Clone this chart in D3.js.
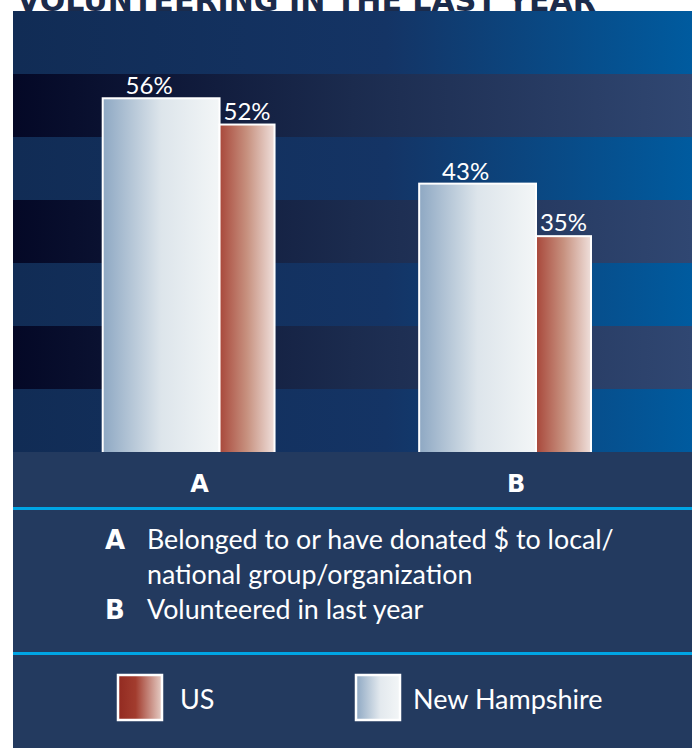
<!DOCTYPE html>
<html>
<head>
<meta charset="utf-8">
<script src="https://cdn.jsdelivr.net/npm/d3@7"></script>
<style>
  html, body { margin: 0; padding: 0; background: #fff; }
  svg { display: block; }
</style>
</head>
<body>
<script>
// chart values
var title = "VOLUNTEERING IN THE LAST YEAR";
var categories = ["A", "B"];
var nhValues = [56, 43];
var usValues = [52, 35];
var categoryNotes = [
    ["Belonged to or have donated $ to local/", "national group/organization"],
    ["Volunteered in last year"]
];
var legendItems = ["US", "New Hampshire"];

document.addEventListener("DOMContentLoaded", function() {
    var width = 692, height = 748;
    var panelX = 13, panelY = 11;
    var plotBottom = 452;

    var svg = d3.select("body").append("svg")
        .attr("width", width)
        .attr("height", height);

    var defs = svg.append("defs");

    function gradient(id, stops) {
        var g = defs.append("linearGradient")
            .attr("id", id)
            .attr("x1", "0%").attr("x2", "100%")
            .attr("y1", "0%").attr("y2", "0%");
        stops.forEach(function(s) {
            g.append("stop").attr("offset", s[0]).attr("stop-color", s[1]);
        });
    }

    gradient("bandBlue", [["0%", "#112c55"], ["55%", "#143465"], ["100%", "#005b9f"]]);
    gradient("bandDark", [["0%", "#040826"], ["50%", "#1b2b4e"], ["100%", "#304772"]]);
    gradient("nhFill", [["0%", "#8ea8c3"], ["50%", "#dde5eb"], ["100%", "#f3f6f7"]]);
    gradient("usFill", [["0%", "#a8473a"], ["50%", "#c7917f"], ["100%", "#efdfdb"]]);
    gradient("usSwatch", [["0%", "#922a20"], ["40%", "#a23c2e"], ["100%", "#e6cec6"]]);
    gradient("nhSwatch", [["0%", "#8ea8c3"], ["55%", "#e3e9ee"], ["100%", "#f3f6f7"]]);

    // title, cut by the panel top
    svg.append("text")
        .attr("x", 17)
        .attr("y", 10.5)
        .attr("fill", "#1b2b4b")
        .attr("textLength", 579)
        .attr("lengthAdjust", "spacingAndGlyphs")
        .style("font-family", "'DejaVu Sans', sans-serif")
        .style("font-weight", "bold")
        .style("font-size", "31px")
        .text(title);

    // striped plot background
    var stripes = d3.scaleBand()
        .domain(d3.range(7))
        .range([panelY, plotBottom]);

    svg.append("g")
        .selectAll("rect")
        .data(stripes.domain())
        .enter().append("rect")
        .attr("x", panelX)
        .attr("y", d => stripes(d))
        .attr("width", width - panelX)
        .attr("height", stripes.bandwidth() + 0.5)
        .attr("fill", d => d % 2 === 0 ? "url(#bandBlue)" : "url(#bandDark)");

    // scales
    var x = d3.scaleBand()
        .domain(categories)
        .range([102.7, 591])
        .paddingInner(0.457);

    var y = d3.scaleLinear()
        .domain([0, 60])
        .range([466, 72]);

    var nhShare = 0.68;
    var bars = svg.append("g");

    var groups = bars.selectAll("g")
        .data(categories)
        .enter().append("g");

    // New Hampshire bars
    groups.append("rect")
        .attr("x", d => x(d))
        .attr("y", (d, i) => y(nhValues[i]))
        .attr("width", x.bandwidth() * nhShare)
        .attr("height", (d, i) => y(0) - y(nhValues[i]))
        .attr("fill", "url(#nhFill)")
        .attr("stroke", "#fff")
        .attr("stroke-width", 2);

    // US bars
    groups.append("rect")
        .attr("x", d => x(d) + x.bandwidth() * nhShare)
        .attr("y", (d, i) => y(usValues[i]))
        .attr("width", x.bandwidth() * (1 - nhShare))
        .attr("height", (d, i) => y(0) - y(usValues[i]))
        .attr("fill", "url(#usFill)")
        .attr("stroke", "#fff")
        .attr("stroke-width", 2);

    var labelStyle = function(sel) {
        sel.attr("fill", "#fff")
            .attr("text-anchor", "middle")
            .style("font-family", "Lato, sans-serif")
            .style("font-size", "24px");
    };

    groups.append("text")
        .attr("x", d => x(d) + x.bandwidth() * nhShare / 2 - 12)
        .attr("y", (d, i) => y(nhValues[i]) - 4)
        .call(labelStyle)
        .text((d, i) => nhValues[i] + "%");

    groups.append("text")
        .attr("x", d => x(d) + x.bandwidth() * (1 + nhShare) / 2)
        .attr("y", (d, i) => y(usValues[i]) - 5)
        .call(labelStyle)
        .text((d, i) => usValues[i] + "%");

    // lower panel covers the bar feet
    svg.append("rect")
        .attr("x", panelX)
        .attr("y", plotBottom)
        .attr("width", width - panelX)
        .attr("height", height - plotBottom)
        .attr("fill", "#233a5f");

    // category axis labels
    svg.append("g")
        .selectAll("text")
        .data(categories)
        .enter().append("text")
        .attr("x", d => x(d) + x.bandwidth() / 2 + 11)
        .attr("y", 492)
        .attr("text-anchor", "middle")
        .attr("fill", "#fff")
        .style("font-family", "'DejaVu Sans', sans-serif")
        .style("font-weight", "bold")
        .style("font-size", "24px")
        .text(d => d);

    // cyan rules
    [507, 652].forEach(function(ry) {
        svg.append("rect")
            .attr("x", panelX)
            .attr("y", ry)
            .attr("width", width - panelX)
            .attr("height", 3)
            .attr("fill", "#00a4e4");
    });

    // category notes
    var notes = svg.append("g");
    var lineY = 549;
    categories.forEach(function(c, i) {
        notes.append("text")
            .attr("x", 105)
            .attr("y", lineY)
            .attr("fill", "#fff")
            .style("font-family", "'DejaVu Sans', sans-serif")
            .style("font-weight", "bold")
            .style("font-size", "26px")
            .text(c);
        categoryNotes[i].forEach(function(line) {
            notes.append("text")
                .attr("x", 147)
                .attr("y", lineY)
                .attr("fill", "#fff")
                .style("font-family", "Lato, sans-serif")
                .style("font-size", "26.8px")
                .text(line);
            lineY += 35;
        });
    });

    // series legend
    var legendX = d3.scalePoint()
        .domain(legendItems)
        .range([117, 355]);

    var legend = svg.append("g")
        .selectAll("g")
        .data(legendItems)
        .enter().append("g")
        .attr("transform", d => "translate(" + legendX(d) + ",674)");

    legend.append("rect")
        .attr("x", 1)
        .attr("y", 1)
        .attr("width", 44)
        .attr("height", 45)
        .attr("fill", d => d === "US" ? "url(#usSwatch)" : "url(#nhSwatch)")
        .attr("stroke", "#fff")
        .attr("stroke-width", 2.5);

    legend.append("text")
        .attr("x", d => d === "US" ? 63 : 58)
        .attr("y", 35)
        .attr("fill", "#fff")
        .style("font-family", "Lato, sans-serif")
        .style("font-size", "27px")
        .text(d => d);
});
</script>
</body>
</html>
